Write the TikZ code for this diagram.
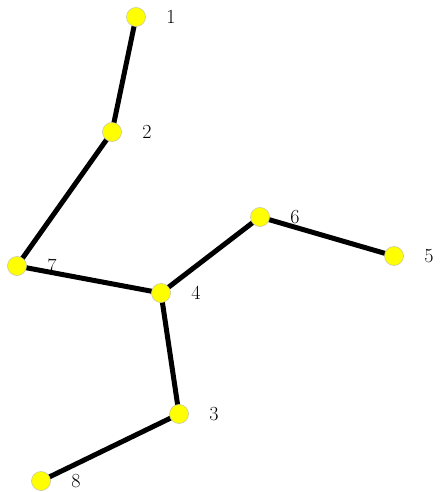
\documentclass[tikz,border=0pt]{standalone}
\usepackage{tikz}
\usetikzlibrary{backgrounds}
\definecolor{VertexYellow}{HTML}{FFFF00}
\definecolor{VertexRim}{HTML}{C8C8A0}

\tikzset{
  vertex/.style={circle, fill=VertexYellow, draw=VertexRim, line width=0.6pt,
    minimum size=19pt, inner sep=0pt},
  tag/.style={font=\fontsize{20}{24}\selectfont},
  edge/.style={line width=5pt, black}
}

\begin{document}
\begin{tikzpicture}[x=1pt, y=-1pt]
  \useasboundingbox (0,0) rectangle (439,492);

  \node[vertex] (v1) at (136,17) {};
  \node[vertex] (v2) at (112,132) {};
  \node[vertex] (v3) at (179,414) {};
  \node[vertex] (v4) at (161,293) {};
  \node[vertex] (v5) at (394,256) {};
  \node[vertex] (v6) at (260,217) {};
  \node[vertex] (v7) at (17,266) {};
  \node[vertex] (v8) at (41,481) {};

  \foreach \i in {1,...,8} {
    \node[tag] (t\i) at ([xshift=35pt]v\i.center) {\i};
  }

  \begin{scope}[on background layer]
    \draw[edge] (v1.center) -- (v2.center) -- (v7.center) -- (v4.center)
      -- (v6.center) -- (v5.center);
    \draw[edge] (v4.center) -- (v3.center) -- (v8.center);
  \end{scope}
\end{tikzpicture}
\end{document}
